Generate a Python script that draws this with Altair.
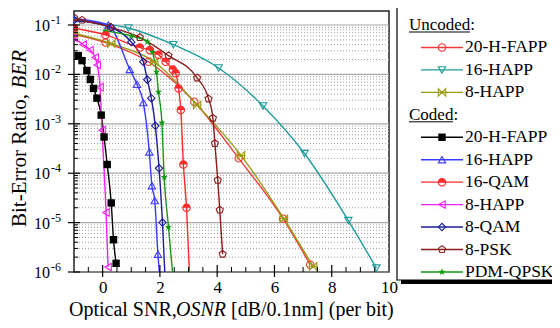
import altair as alt
import pandas as pd

# ---------------- series data (x = OSNR [dB], y = BER) ----------------
U20_X = [-1.0, 0.1, 1.6, 3.2, 4.75, 6.3, 7.25]
U20_Y = [6.5e-2, 4.4e-2, 1.8e-2, 2.8e-3, 2.0e-4, 1.2e-5, 1.4e-6]
U16_X = [-1.0, 0.9, 2.47, 4.05, 5.6, 7.05, 8.58, 9.56]
U16_Y = [1.2e-1, 8.7e-2, 4.0e-2, 1.35e-2, 2.3e-3, 2.5e-4, 1.1e-5, 1.2e-6]
U8_X = [-1.0, 0.3, 1.8, 3.3, 4.83, 6.33, 7.35]
U8_Y = [6.8e-2, 4.2e-2, 1.8e-2, 2.4e-3, 2.3e-4, 1.2e-5, 1.3e-6]
C20_X = [-0.85, -0.72, -0.55, -0.43, -0.32, -0.2, -0.05, 0.05, 0.16, 0.3, 0.38, 0.47]
C20_Y = [2.4e-2, 1.9e-2, 1.2e-2, 7.9e-3, 5.2e-3, 3.3e-3, 1.5e-3, 5.4e-4, 1.5e-4, 2.5e-5, 4.5e-6, 1.5e-6]
C16_X = [-1.0, 0.2, 0.95, 1.2, 1.42, 1.63, 1.72, 1.82, 1.93, 1.98]
C16_Y = [1.35e-1, 1.0e-1, 1.26e-2, 6.3e-3, 2.7e-3, 2.7e-4, 5.6e-5, 2.8e-5, 2.3e-6, 1.0e-6]
C16Q_X = [-1.0, 0.1, 1.3, 1.65, 1.95, 2.2, 2.45, 2.55, 2.65, 2.73, 2.82, 2.93, 3.03]
C16Q_Y = [8.7e-2, 6.3e-2, 3.5e-2, 3.1e-2, 2.5e-2, 1.8e-2, 1.26e-2, 1.05e-2, 5.2e-3, 1.9e-3, 1.5e-4, 2.0e-5, 1.0e-6]
C8H_X = [-1.0, -0.68, -0.44, -0.26, -0.19, -0.09, -0.02, 0.12, 0.19]
C8H_Y = [5.5e-2, 4.0e-2, 3.1e-2, 2.2e-2, 1.55e-2, 5.5e-3, 7.4e-4, 1.6e-5, 1.26e-6]
C8Q_X = [-1.0, 0.3, 1.0, 1.42, 1.56, 1.7, 1.84, 1.97, 2.09, 2.17]
C8Q_Y = [1.26e-1, 8.9e-2, 4.5e-2, 1.8e-2, 7.8e-3, 3.3e-3, 9.1e-4, 1.26e-4, 1.0e-5, 1.0e-6]
C8P_X = [-1.0, -0.72, 0.26, 1.3, 2.3, 3.3, 3.7, 3.85, 3.92, 4.02, 4.09, 4.19]
C8P_Y = [1.41e-1, 1.26e-1, 9.1e-2, 5.6e-2, 2.4e-2, 8.5e-3, 3.2e-3, 1.3e-3, 4.0e-4, 7.2e-5, 1.8e-5, 2.3e-6]
CQ_X = [0.09, 1.0, 1.56, 1.74, 1.88, 1.95, 2.07, 2.15, 2.3, 2.44]
CQ_Y = [7.6e-2, 6.0e-2, 4.6e-2, 2.8e-2, 1.12e-2, 4.4e-3, 1.05e-3, 8.3e-5, 8.1e-6, 1.0e-6]

SERIES = ["u20", "u16", "u8", "c20", "c16", "c16q", "c8h", "c8q", "c8p", "cq"]
LABELS = ["20-H-FAPP", "16-HAPP", "8-HAPP", "20-H-FAPP", "16-HAPP",
          "16-QAM", "8-HAPP", "8-QAM", "8-PSK", "PDM-QPSK"]
COLORS = ["#f03c3c", "#1f9c9c", "#9a9a14", "#000000", "#3a3aff",
          "#ff2a2a", "#f020f0", "#1c1c9a", "#8a1c1c", "#109a10"]
XS = [U20_X, U16_X, U8_X, C20_X, C16_X, C16Q_X, C8H_X, C8Q_X, C8P_X, CQ_X]
YS = [U20_Y, U16_Y, U8_Y, C20_Y, C16_Y, C16Q_Y, C8H_Y, C8Q_Y, C8P_Y, CQ_Y]
HEADERS = ["Uncoded:", "Coded:"]

DECADES = [1e-1, 1e-2, 1e-3, 1e-4, 1e-5, 1e-6]
EXPONENTS = ["-1", "-2", "-3", "-4", "-5", "-6"]
X_LABELS = [0, 2, 4, 6, 8, 10]

# ---------------- marker shapes ----------------
BOWTIE = "M-1,-1L1,1L1,-1L-1,1ZM-1.2,0L1.2,0"
PENTAGON = "M0,-1L0.951,-0.309L0.588,0.809L-0.588,0.809L-0.951,-0.309Z"
STAR = ("M0,-1L0.235,-0.324L0.951,-0.309L0.38,0.124L0.588,0.809L0,0.4"
        "L-0.588,0.809L-0.38,0.124L-0.951,-0.309L-0.235,-0.324Z")
HALF = "M-1,0A1,1 0 0,1 1,0Z"
SHAPES = ["circle", "triangle-down", BOWTIE, "square", "triangle-up",
          "circle", "triangle-left", "diamond", PENTAGON, STAR]
HOLLOW = ["u20", "u16", "u8", "c16", "c16q", "c8h", "c8q", "c8p"]
FILLED = ["c20", "cq"]

FONT = "Liberation Serif"
W, H = 315, 261

rows = [dict(s=s, x=x, ber=y) for s, xs, ys in zip(SERIES, XS, YS) for x, y in zip(xs, ys)]
df = pd.DataFrame(rows)

xscale = alt.Scale(domain=[-1, 10], nice=False, zero=False)
yscale = alt.Scale(type="log", domain=[1e-6, 0.192], nice=False)
XAXIS = alt.Axis(values=X_LABELS, title=None, ticks=False, tickSize=0, domain=False, grid=False,
                 labelFont=FONT, labelFontSize=17, labelColor="black", labelPadding=7,
                 labelFlush=False)
color = alt.Color("s:N", scale=alt.Scale(domain=SERIES, range=COLORS), legend=None)
shape = alt.Shape("s:N", scale=alt.Scale(domain=SERIES, range=SHAPES), legend=None)
one = pd.DataFrame({"a": [0]})

# ---------------- grid & ticks ----------------
minor = [m * d for d in DECADES for m in range(2, 10) if m * d < 0.192]
xticks_minor = [v / 2 for v in range(-1, 20) if v % 4 != 0]
xticks_major = [v for v in X_LABELS if v < 10]

grid_major = alt.Chart(pd.DataFrame({"v": DECADES})).mark_rule(
    color="#a8a8a8", strokeWidth=1.2).encode(y=alt.Y("v:Q", scale=yscale, axis=None))
grid_minor = alt.Chart(pd.DataFrame({"v": minor})).mark_rule(
    color="#a0a0a0", strokeWidth=1, strokeDash=[1, 2]).encode(
    y=alt.Y("v:Q", scale=yscale, axis=None))
ytick_major = alt.Chart(pd.DataFrame({"v": DECADES})).mark_rule(color="black", strokeWidth=1.2).encode(
    y=alt.Y("v:Q", scale=yscale, axis=None), x=alt.value(-6), x2=alt.value(6))
ytick_minor = alt.Chart(pd.DataFrame({"v": minor})).mark_rule(color="black", strokeWidth=1).encode(
    y=alt.Y("v:Q", scale=yscale, axis=None), x=alt.value(0), x2=alt.value(4))
xtick_major = alt.Chart(pd.DataFrame({"x": xticks_major})).mark_rule(color="black", strokeWidth=1.2).encode(
    x=alt.X("x:Q", scale=xscale, axis=XAXIS), y=alt.value(H - 7), y2=alt.value(H + 5))
xtick_minor = alt.Chart(pd.DataFrame({"x": xticks_minor})).mark_rule(color="black", strokeWidth=1).encode(
    x=alt.X("x:Q", scale=xscale, axis=XAXIS), y=alt.value(H - 5), y2=alt.value(H))

# ---------------- series ----------------
X = alt.X("x:Q", scale=xscale, axis=XAXIS)
Y = alt.Y("ber:Q", scale=yscale, axis=None)

lines = alt.Chart(df).mark_line(strokeWidth=1.4, clip=True, interpolate="monotone").encode(X, Y, color)
hollow = alt.Chart(df).transform_filter(alt.FieldOneOfPredicate(field="s", oneOf=HOLLOW)).transform_filter(
    "datum.ber > 1.01e-6").mark_point(filled=False, size=55, strokeWidth=1.1, clip=True, opacity=1).encode(
    X, Y, color, shape)
filled = alt.Chart(df).transform_filter(alt.FieldOneOfPredicate(field="s", oneOf=FILLED)).transform_filter(
    "datum.ber > 1.01e-6").mark_point(filled=True, size=55, clip=True, opacity=1).encode(X, Y, color, shape)
half = alt.Chart(df).transform_filter(alt.FieldEqualPredicate(field="s", equal="c16q")).transform_filter(
    "datum.ber > 1.01e-6").mark_point(filled=True, size=55, shape=HALF, clip=True, opacity=1).encode(
    X, Y, color)

# ---------------- y labels & titles ----------------
dec_df = pd.DataFrame({"v": DECADES, "e": EXPONENTS})
ylab10 = alt.Chart(dec_df).mark_text(align="right", baseline="middle", font=FONT, fontSize=16, dy=1,
                                     color="black").encode(
    y=alt.Y("v:Q", scale=yscale, axis=None), x=alt.value(-24), text=alt.value("10"))
ylabexp = alt.Chart(dec_df).mark_text(align="left", baseline="middle", font=FONT, fontSize=12, dy=-5,
                                      color="black").encode(
    y=alt.Y("v:Q", scale=yscale, axis=None), x=alt.value(-23), text="e:N")


def txt(s, x, y, size=20, italic=False, angle=0):
    kw = dict(align="left", baseline="alphabetic", font=FONT, fontSize=size, color="black")
    if italic:
        kw["fontStyle"] = "italic"
    if angle:
        kw["angle"] = angle
    return alt.Chart(one).mark_text(**kw).encode(x=alt.value(x), y=alt.value(y), text=alt.value(s))


# widths at 20px (Times metrics): "Optical SNR," ~ 98, "OSNR" italic = 50, " " = 5
XT_Y, XT_X = 304.5, -5
xt1 = txt("Optical SNR,", XT_X, XT_Y)
xt2 = txt("OSNR", XT_X + 107, XT_Y, italic=True)
xt3 = txt("[dB/0.1nm] (per bit)", XT_X + 107 + 50 + 5, XT_Y)
yt1 = txt("Bit-Error Ratio,", -48.5, 216, size=21, angle=270)
yt2 = txt("BER", -48.5, 216 - 138.5, size=21, italic=True, angle=270)

# ---------------- legend ----------------
LX0, LX1, LY0, LY1 = 323, 484, -6, 269
LEG_TOP, LEG_STEP = 14, 22.45
MX0, MX1, TX = 347, 389, 391
leg_rows = [1, 2, 3, 5, 6, 7, 8, 9, 10, 11]
leg_df = pd.DataFrame({"s": SERIES, "label": LABELS,
                       "ly": [LEG_TOP + r * LEG_STEP for r in leg_rows]})
hdr_df = pd.DataFrame({"t": HEADERS, "ly": [LEG_TOP, LEG_TOP + 4 * LEG_STEP],
                       "u0": [335, 335], "u1": [335 + 61, 335 + 44]})
LY = alt.Y("ly:Q", scale=None, axis=None)

shadow = alt.Chart(one).mark_rect(color="black").encode(
    x=alt.value(LX0 + 4), x2=alt.value(LX1 + 4), y=alt.value(LY0 + 4), y2=alt.value(LY1 + 4))
box = alt.Chart(one).mark_rect(fill="white", stroke="black", strokeWidth=1.2).encode(
    x=alt.value(LX0), x2=alt.value(LX1), y=alt.value(LY0), y2=alt.value(LY1))
hdr = alt.Chart(hdr_df).mark_text(align="left", baseline="middle", font=FONT, fontSize=17,
                                  color="black").encode(x=alt.value(335), y=LY, text="t:N")
uline = alt.Chart(hdr_df).transform_calculate(uy="datum.ly + 7").mark_rule(
    color="black", strokeWidth=1).encode(
    x=alt.X("u0:Q", scale=None, axis=None), x2=alt.X2("u1:Q"),
    y=alt.Y("uy:Q", scale=None, axis=None))
leg_lines = alt.Chart(leg_df).mark_rule(strokeWidth=1.4).encode(
    x=alt.value(MX0), x2=alt.value(MX1), y=LY, color=color)
leg_hollow = alt.Chart(leg_df).transform_filter(alt.FieldOneOfPredicate(field="s", oneOf=HOLLOW)).mark_point(
    filled=False, size=55, strokeWidth=1.1, opacity=1).encode(
    x=alt.value((MX0 + MX1) / 2), y=LY, color=color, shape=shape)
leg_filled = alt.Chart(leg_df).transform_filter(alt.FieldOneOfPredicate(field="s", oneOf=FILLED)).mark_point(
    filled=True, size=55, opacity=1).encode(x=alt.value((MX0 + MX1) / 2), y=LY, color=color, shape=shape)
leg_half = alt.Chart(leg_df).transform_filter(alt.FieldEqualPredicate(field="s", equal="c16q")).mark_point(
    filled=True, size=55, shape=HALF, opacity=1).encode(x=alt.value((MX0 + MX1) / 2), y=LY, color=color)
leg_text = alt.Chart(leg_df).mark_text(align="left", baseline="middle", font=FONT, fontSize=17.5,
                                       color="black").encode(x=alt.value(TX), y=LY, text="label:N")

chart = alt.layer(
    grid_minor, grid_major, lines, hollow, filled, half,
    ytick_major, ytick_minor, xtick_major, xtick_minor,
    ylab10, ylabexp, xt1, xt2, xt3, yt1, yt2,
    shadow, box, hdr, uline, leg_lines, leg_hollow, leg_filled, leg_half, leg_text,
).properties(
    width=W, height=H,
    autosize=alt.AutoSizeParams(type="none"),
    padding={"left": 66, "top": 3, "right": 163, "bottom": 48},
).configure_view(stroke="#222222", strokeWidth=1.5)

chart.save("out.html", embed_options={"renderer": "svg", "actions": False})
